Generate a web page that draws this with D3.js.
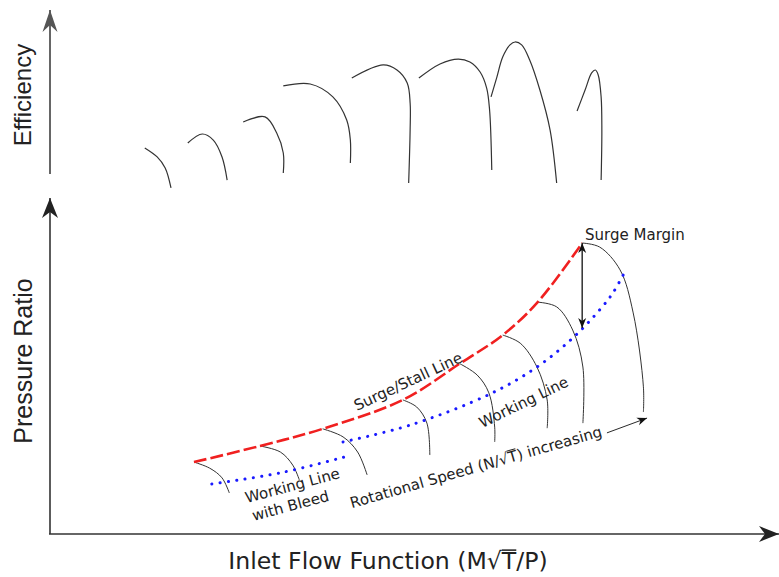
<!DOCTYPE html>
<html>
<head>
<meta charset="utf-8">
<script src="https://cdn.jsdelivr.net/npm/d3@7"></script>
<style>
  body { margin: 0; background: #fff; }
  svg { display: block; }
</style>
</head>
<body>
<svg id="chart" width="779" height="577"></svg>
<script>
// Schematic compressor map - arbitrary units, both panels share the x axis (0-100)

// Efficiency vs flow, one curve per speed line (top panel)
const efficiencyCurves = [
  [[13.0, 15.9], [14.7, 10.4], [15.8, 3.7], [16.6, -8.5]],
  [[18.9, 18.9], [20.9, 24.4], [22.4, 20.7], [23.6, 10.4], [24.3, -3.7]],
  [[26.5, 31.7], [29.5, 34.8], [31.1, 25.0], [32.0, 12.8], [32.0, 0.6]],
  [[32.0, 53.7], [35.7, 54.9], [38.8, 47.0], [40.7, 32.9], [41.2, 20.7], [41.2, 6.7]],
  [[41.4, 58.5], [45.7, 66.5], [47.6, 63.4], [49.0, 55.5], [49.4, 43.3], [49.4, 26.8], [49.2, -5.5]],
  [[50.6, 58.5], [53.5, 67.1], [56.0, 70.1], [57.6, 68.3], [59.0, 62.2], [59.9, 52.4], [60.3, 39.0], [60.6, 2.4]],
  [[60.5, 47.0], [61.3, 59.1], [62.1, 71.3], [63.1, 78.7], [63.8, 80.5], [64.7, 78.7], [65.8, 69.5], [67.2, 51.2], [68.6, 26.8], [69.5, -5.5]],
  [[72.3, 38.4], [73.4, 51.2], [74.3, 61.6], [74.8, 63.4], [75.2, 60.4], [75.6, 47.0], [75.7, 26.8], [75.6, -3.7]]
];

// Pressure ratio vs flow (bottom panel)
const surgeLine = [
  [19.75, 21.4], [28.8, 26.2], [37.4, 31.3], [48.4, 39.9],
  [56.2, 50.7], [62.1, 59.2], [66.9, 69.0], [73.0, 86.6]
];
const workingLine = [
  [40.2, 27.4], [49.4, 32.4], [60.4, 41.7], [66.8, 49.7],
  [71.7, 58.3], [75.4, 66.7], [77.2, 71.7], [78.7, 77.4]
];
const workingLineBleed = [[22.2, 14.9], [31.6, 18.2], [40.9, 23.2]];

const speedLines = [
  [[19.75, 21.4], [21.9, 19.6], [23.6, 16.7], [24.6, 12.2]],
  [[28.8, 26.2], [31.6, 24.4], [33.3, 20.5], [34.2, 16.1]],
  [[37.4, 31.3], [40.2, 28.9], [42.2, 24.4], [43.5, 17.6]],
  [[48.4, 39.9], [50.3, 37.8], [51.7, 33.0], [52.1, 23.5]],
  [[56.2, 50.7], [58.6, 47.3], [60.2, 42.0], [61.0, 31.8], [61.0, 27.4]],
  [[62.1, 59.2], [64.5, 56.8], [66.8, 49.7], [68.2, 39.9], [68.2, 31.5]],
  [[66.9, 69.0], [69.5, 67.6], [71.7, 60.7], [73.1, 49.7], [73.1, 33.0]],
  [[73.0, 86.6], [75.4, 85.4], [78.2, 78.6], [80.0, 65.8], [81.4, 43.8], [81.4, 36.3]]
];

const surgeMarginX = 73.0;
const surgeMarginY = [86.6, 61.3];
const speedArrow = [[76.4, 30.1], [81.9, 34.5]];

const svg = d3.select("#chart");

// Scales
const x = d3.scaleLinear().domain([0, 100]).range([50, 779]);
const yTop = d3.scaleLinear().domain([0, 100]).range([174, 10]);
const yBot = d3.scaleLinear().domain([0, 100]).range([534, 198]);

// Arrow heads
const defs = svg.append("defs");
function addMarker(id, path, color) {
  defs.append("marker")
    .attr("id", id)
    .attr("markerUnits", "userSpaceOnUse")
    .attr("viewBox", "-30 -15 35 30")
    .attr("refX", 0).attr("refY", 0)
    .attr("markerWidth", 35).attr("markerHeight", 30)
    .attr("orient", "auto-start-reverse")
    .append("path")
    .attr("d", path)
    .attr("fill", color);
}
addMarker("axisHeadTop", "M0,0 L-22,-7.5 L-15,0 L-22,7.5 Z", "#555");
addMarker("axisHead", "M0,0 L-20,-8 L-14,0 L-20,8 Z", "#222");
addMarker("smallHead", "M0,0 L-10,-4 L-7,0 L-10,4 Z", "#111");

// Axes
svg.append("line")
  .attr("x1", x(0)).attr("y1", yTop(0))
  .attr("x2", x(0)).attr("y2", yTop(100))
  .attr("stroke", "#666").attr("stroke-width", 2)
  .attr("marker-end", "url(#axisHeadTop)");

svg.append("line")
  .attr("x1", x(0)).attr("y1", yBot(0))
  .attr("x2", x(0)).attr("y2", yBot(100))
  .attr("stroke", "#333").attr("stroke-width", 1.6)
  .attr("marker-end", "url(#axisHead)");

svg.append("line")
  .attr("x1", x(0) - 1).attr("y1", yBot(0))
  .attr("x2", x(100)).attr("y2", yBot(0))
  .attr("stroke", "#333").attr("stroke-width", 1.6)
  .attr("marker-end", "url(#axisHead)");

// Efficiency curves
const lineTop = d3.line()
  .x(d => x(d[0]))
  .y(d => yTop(d[1]))
  .curve(d3.curveCatmullRom.alpha(0.5));

svg.append("g")
  .selectAll("path")
  .data(efficiencyCurves)
  .enter().append("path")
  .attr("d", lineTop)
  .attr("fill", "none")
  .attr("stroke", "#333")
  .attr("stroke-width", 1.2);

// Compressor map
const lineBot = d3.line()
  .x(d => x(d[0]))
  .y(d => yBot(d[1]))
  .curve(d3.curveCatmullRom.alpha(0.5));

svg.append("g")
  .selectAll("path")
  .data(speedLines)
  .enter().append("path")
  .attr("d", lineBot)
  .attr("fill", "none")
  .attr("stroke", "#333")
  .attr("stroke-width", 1);

svg.append("path")
  .datum(workingLineBleed)
  .attr("d", lineBot)
  .attr("fill", "none")
  .attr("stroke", "#1a1aff")
  .attr("stroke-width", 3)
  .attr("stroke-linecap", "round")
  .attr("stroke-dasharray", "0.1,8.3");

svg.append("path")
  .datum(workingLine)
  .attr("d", lineBot)
  .attr("fill", "none")
  .attr("stroke", "#1a1aff")
  .attr("stroke-width", 3)
  .attr("stroke-linecap", "round")
  .attr("stroke-dasharray", "0.1,8.3");

svg.append("path")
  .datum(surgeLine)
  .attr("d", lineBot)
  .attr("fill", "none")
  .attr("stroke", "#f02020")
  .attr("stroke-width", 2.6)
  .attr("stroke-dasharray", "13,4");

// Surge margin double arrow
svg.append("line")
  .attr("x1", x(surgeMarginX)).attr("y1", yBot(surgeMarginY[1]))
  .attr("x2", x(surgeMarginX)).attr("y2", yBot(surgeMarginY[0]))
  .attr("stroke", "#111").attr("stroke-width", 1.3)
  .attr("marker-start", "url(#smallHead)")
  .attr("marker-end", "url(#smallHead)");

// Rotational speed increasing arrow
svg.append("line")
  .attr("x1", x(speedArrow[0][0])).attr("y1", yBot(speedArrow[0][1]))
  .attr("x2", x(speedArrow[1][0])).attr("y2", yBot(speedArrow[1][1]))
  .attr("stroke", "#111").attr("stroke-width", 0.9)
  .attr("marker-end", "url(#smallHead)");

// Text helpers
const smallFont = "'DejaVu Sans', Verdana, sans-serif";

// parts: [text, overlined?]
function label(tx, ty, angle, parts, size, family, anchor) {
  const g = svg.append("g")
    .attr("transform", `translate(${tx},${ty}) rotate(${angle})`);
  const t = g.append("text")
    .attr("x", 0).attr("y", 0)
    .attr("font-family", family)
    .attr("font-size", size)
    .attr("fill", "#222")
    .attr("text-anchor", anchor || "start");
  parts.forEach(p => t.append("tspan").text(p[0]));
  // draw bars over characters flagged as overlined
  let idx = 0;
  const node = t.node();
  parts.forEach(p => {
    if (p[1]) {
      const a = node.getStartPositionOfChar(idx);
      const b = node.getEndPositionOfChar(idx + p[0].length - 1);
      g.append("line")
        .attr("x1", a.x).attr("x2", b.x)
        .attr("y1", -size * 0.80).attr("y2", -size * 0.80)
        .attr("stroke", "#222")
        .attr("stroke-width", size * 0.065);
    }
    idx += p[0].length;
  });
  return g;
}

// Axis titles
svg.append("text")
  .attr("transform", "translate(31,95) rotate(-90)")
  .attr("text-anchor", "middle")
  .attr("font-family", "'Liberation Sans', Arial, sans-serif")
  .attr("font-size", 24)
  .attr("fill", "#222")
  .text("Efficiency");

svg.append("text")
  .attr("transform", "translate(32,361) rotate(-90)")
  .attr("text-anchor", "middle")
  .attr("font-family", "'Liberation Sans', Arial, sans-serif")
  .attr("font-size", 25)
  .attr("fill", "#222")
  .text("Pressure Ratio");

label(388, 569, 0, [["Inlet Flow Function (M√"], ["T", true], ["/P)"]], 23.6, smallFont, "middle");

// Annotations
label(x(73.4), yBot(87.5), 0, [["Surge Margin"]], 15, smallFont);
label(x(42.1), yBot(36.6), -25, [["Surge/Stall Line"]], 15, smallFont);
label(x(59.3), yBot(31.5), -26, [["Working Line"]], 15, smallFont);
const bleed = label(x(27.0), yBot(9.2), -15, [["Working Line"]], 15, smallFont);
bleed.append("text")
  .attr("x", 2).attr("y", 19)
  .attr("font-family", smallFont)
  .attr("font-size", 15)
  .attr("fill", "#222")
  .text("with Bleed");
label(x(41.4), yBot(7.7), -16, [["Rotational Speed (N/√"], ["T", true], [") increasing"]], 15, smallFont);
</script>
</body>
</html>
